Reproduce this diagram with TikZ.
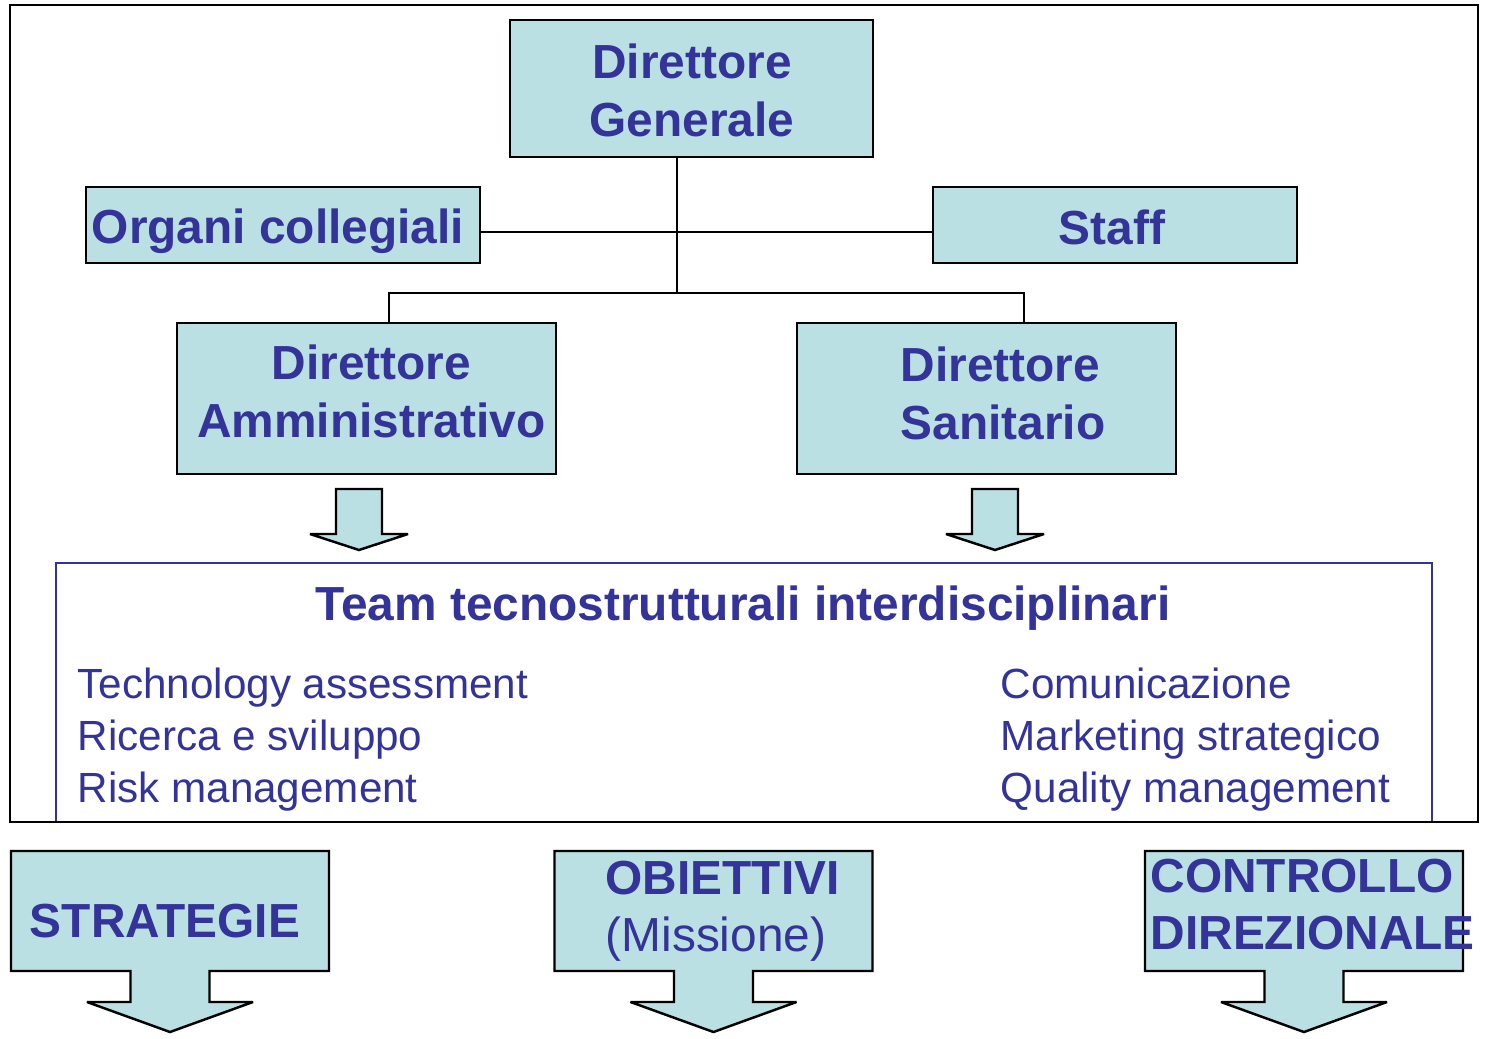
\documentclass[tikz,border=0pt]{standalone}
\usepackage{fontspec}
\setmainfont{Liberation Sans}
\definecolor{boxfill}{HTML}{BAE0E3}
\definecolor{navy}{HTML}{333399}
\begin{document}
\begin{tikzpicture}[x=0.01cm,y=-0.01cm,
  orgbox/.style={draw=black,line width=0.7pt,fill=boxfill,inner sep=0pt},
  boxtext/.style={text=navy,inner sep=0pt,font=\bfseries\fontsize{13.6}{16.5}\selectfont},
  link/.style={draw=black,line width=0.6pt},
  blockarrow/.style={draw=black,line width=0.7pt,fill=boxfill,line join=miter,miter limit=3},
  listtext/.style={text=navy,align=left,inner sep=0pt,font=\fontsize{12}{14.8}\selectfont},
  headtext/.style={text=navy,inner sep=0pt,font=\bfseries\fontsize{13.6}{16.3}\selectfont}]
\useasboundingbox (0,0) rectangle (1490,1039);

% organisation chart boxes
\node[orgbox,minimum width=3.63cm,minimum height=1.37cm] (dg) at (691.5,88.5) {};
\node[orgbox,minimum width=3.94cm,minimum height=0.76cm] (oc) at (283,225) {};
\node[orgbox,minimum width=3.64cm,minimum height=0.76cm] (staff) at (1115,225) {};
\node[orgbox,minimum width=3.79cm,minimum height=1.51cm] (da) at (366.5,398.5) {};
\node[orgbox,minimum width=3.79cm,minimum height=1.51cm] (ds) at (986.5,398.5) {};

% box captions
\node[boxtext,align=center] (dgtext) at (692,90) {Direttore\\Generale};
\node[boxtext] (octext) at (278,231) {Organi collegiali};
\node[boxtext] (stafftext) at (1112,227) {Staff};
\node[boxtext,align=center] (datext) at (371.5,391) {Direttore\\Amministrativo};
\node[boxtext,align=left,anchor=north west] (dstext) at (900,346) {Direttore\\Sanitario};

% connectors
\coordinate (hub) at (677,232);
\coordinate (split) at (677,293);
\coordinate (dajoin) at (389,293);
\coordinate (dsjoin) at (1024,293);
\draw[link] (dg.south -| hub) -- (split);
\draw[link] (oc.east |- hub) -- (staff.west |- hub);
\draw[link] (dajoin |- da.north) -- (dajoin) -- (dsjoin) -- (dsjoin |- ds.north);

% small block arrows under the directors
\foreach \ax in {359,995}{
  \begin{scope}[shift={(\ax,489)}]
    \draw[blockarrow] (-23,0) -- (23,0) -- (23,45) -- (49,45) -- (0,61) -- (-49,45) -- (-23,45) -- cycle;
  \end{scope}
}

% team box
\node[draw=navy,line width=0.6pt,minimum width=13.76cm,minimum height=2.59cm,inner sep=0pt] (team) at (744,692.5) {};
\node[headtext,anchor=base] (teamtitle) at (743,620) {Team tecnostrutturali interdisciplinari};
\node[listtext,anchor=north west] (leftlist) at (77,667) {Technology assessment\\Ricerca e sviluppo\\Risk management};
\node[listtext,anchor=north west] (rightlist) at (1000,667) {Comunicazione\\Marketing strategico\\Quality management};

% outer frame
\draw[line width=0.8pt] (10,5) rectangle (1478,822);

% bottom callouts
\foreach \cx in {170,713.5,1304}{
  \begin{scope}[shift={(\cx,0)}]
    \draw[blockarrow] (-159,851) -- (159,851) -- (159,971) -- (39.5,971) -- (39.5,1002)
      -- (83,1002) -- (0,1032) -- (-83,1002) -- (-39.5,1002) -- (-39.5,971) -- (-159,971) -- cycle;
  \end{scope}
}
\node[headtext,anchor=base] (strat) at (165,937) {STRATEGIE};
\node[headtext,anchor=north west,align=left] (obj) at (605,860) {OBIETTIVI\\{\mdseries (Missione)}};
\node[headtext,anchor=north west,align=left] (ctrl) at (1150,858) {CONTROLLO\\DIREZIONALE};
\end{tikzpicture}
\end{document}
